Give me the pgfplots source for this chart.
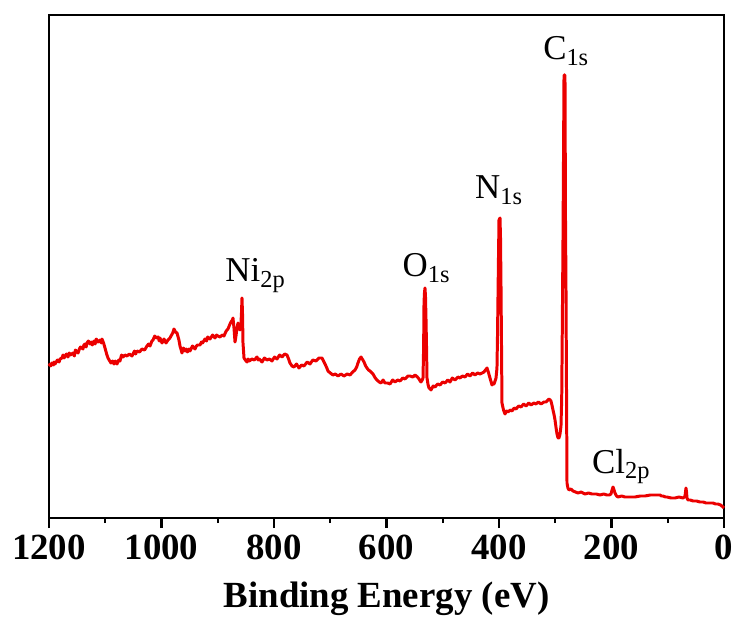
\documentclass[border=0pt]{standalone}
\usepackage{fontspec}
\setmainfont{Liberation Serif}
\usepackage{pgfplots}
\pgfplotsset{compat=1.18}

\begin{document}
\begin{tikzpicture}
\useasboundingbox (0,0) rectangle (368.5bp,311.5bp);
\begin{axis}[
  at={(24.5bp,52.5bp)}, anchor=south west,
  scale only axis, width=337.5bp, height=251.5bp,
  x dir=reverse, xmin=0, xmax=1200, ymin=0, ymax=503,
  xtick={0,200,...,1200}, minor x tick num=1,
  ytick=\empty,
  xtick pos=bottom, tick align=outside,
  major tick length=5bp, minor tick length=2.5bp,
  axis line style={line width=1.3pt},
  every tick/.style={line width=1.2pt, black},
  /pgf/number format/assume math mode=true,
  /pgf/number format/1000 sep={},
  tick label style={font=\fontsize{18.5}{20}\selectfont\bfseries},
  xlabel={Binding Energy (eV)},
  xlabel style={font=\fontsize{18.5}{20}\selectfont\bfseries,
    at={(axis description cs:0.5,0)}, anchor=base, yshift=-44.5bp},
  clip=false,
]
% XPS survey spectrum (intensity in arbitrary units)
\addplot[red!92!black, line width=1.5pt, line join=round] coordinates {
(1200,152)(1198,154)(1197,152)(1194.7,155)(1192,153)(1191,156)(1189.3,154)(1185,158)(1182,156)(1180.4,159)(1177,160)
(1175,163)(1173.3,160)(1169,164)(1166.2,161)(1164,165)(1162,163)(1157.3,165)(1155,162)(1153,168)(1148.4,165)(1146,169)(1144,171)
(1139.6,169)(1138,173)(1136,174)(1134,171)(1132.4,175)(1130,177)(1127.1,174)(1125,176)(1123,173)(1120,177)(1118,174)(1116,179)
(1112.9,176)(1109,178)(1107,175)(1105.8,179)(1103,175)(1100.4,170)(1097.5,164)(1095.1,160)(1092,157)
(1089.8,155)(1087,157)(1084.4,154)(1082,157)(1079.1,154)(1076,158)(1073.8,157)(1071,163)
(1068.4,161)(1065,163)(1061.3,162)(1057,164)(1052.4,162)(1048,167)(1046,164)(1043.6,167)(1039,166)
(1034.7,169)(1030,168)(1025.8,172)(1023,174)(1020.4,172)(1017,177)(1015.1,178)(1012,182)
(1009.8,180)(1006,181)(1004,177)(1002.7,180)(999,175)(995.6,179)(992,175)(988.4,178)(985,180)
(983.1,182)(980,185)(977.8,189)(975,186)(972.4,185)(969,178)(967.1,172)(965,168)
(963.6,165)(961,170)(958.2,167)(956,169)(954,166)(951,169)(949.3,167)(945,172)(940.4,169)(938,172)(936,173)
(931.6,173)(929,176)(927,175)(922.7,179)(920,177)(918,181)(913.8,179)(909,183)(904.9,180)(902,183)(900,182)
(896,181)(892,183)(888.9,182)(885,187)(881.8,189)(879,193)(876.4,196)(874,198)
(872.9,200)(871.1,190)(869.3,176)(867.6,182)(866,189)(864,195)(862,190)(860.4,188)
(858.7,195)(857.8,205)(856.9,220)(856,205)(855.1,175)(853.3,160)(851,158)(848,156)
(846,159)(844,157)(839.1,159)(835,158)(830.2,161)(828,158)(826,159)(821.3,156)(817,160)(812.4,158)
(808,159)(803.6,157)(799,161)(794.7,159)(790,163)(785.8,161)(781,164)(776.9,163)
(774,159)(771.6,155)(768,152)(764.4,151)(760,154)(755.6,150)(751,153)(746.7,152)
(741,156)(736,154)(731,158)(725.3,157)(720,160)(714.7,160)(712,157)(709.3,154)
(706,150)(704,147)(700,145)(695.1,143)(691,144)(686.2,142)(681,144)(675.6,142)
(670,144)(664.9,143)(660,146)(656,148)(653,151)(650.7,155)(648,159)(645.3,161)
(642,158)(640,156)(637,152)(634.7,150)(632,148)(629.3,147)(626,145)(624,144)
(620,140)(616.9,138)(613,136)(609.8,135)(606,138)(602.7,135)(598,135)(593.8,134)
(589,138)(584.9,136)(580,138)(576,137)(571,140)(567.1,139)(562,142)(558.2,142)
(553,141)(549.3,143)(545,141)(542.2,139)(540,137)(538.7,136)(536.5,138)(535.1,140)
(534,170)(533.3,215)(532.5,225)(531.6,230)(530.7,222)(529.8,200)(528.8,170)(528,140)
(526,133)(524.4,130)(522,129)(520.9,128)(517,132)(513.8,131)(509,134)(504.9,133)
(500,136)(496,135)(491,138)(487.1,136)(483,140)(478.2,138)(473,141)(469.3,140)
(465,142)(460.4,141)(456,144)(451.6,142)(447,145)(442.7,143)(438,145)(433.8,144)
(430,145)(426.7,146)(424,148)(421.3,150)(418.5,145)(416,140)(414,136)(412.4,133)
(410.5,135)(408.9,134)(407,137)(405.3,140)(403.6,150)(402.7,180)(401.8,220)(400.9,260)
(400,298)(398.2,300)(397.3,280)(396.4,230)(395.5,170)(394.7,115)(392,108)(389.3,104)
(386.5,107)(384,106)(380,108)(376.9,107)(373,110)(369.8,109)(365,112)(360.9,111)
(356,114)(352,112)(347,115)(343.1,113)(338,115)(334.2,114)(330,116)(325.3,114)
(320,116)(316.4,116)(313,118)(311.1,119)(309,118)(307.6,117)(305.5,112)(304,108)
(302,103)(300.4,98)(298.5,90)(296.9,84)(295,80)(293.3,80)(291.5,84)(289.8,92)
(288.5,120)(287.3,200)(286.2,280)(285.3,360)(284.4,443)(283.5,443)(282.7,443)(281.8,300)
(280.9,230)(280,130)(279.1,35)(277.5,30)(275.6,28)(272,29)(268.4,27)(264,26)
(259.6,25)(254,26)(247.1,24)(241,25)(234.7,24)(227,24)(220.4,23)(214,24)
(208,23)(204,23)(200.9,24)(199,28)(197.3,31)(195.5,28)(193.8,25)(191,22)
(188.4,21)(182,22)(176,21)(167,21)(158.2,21)(149,22)(140.4,22)(131,23)
(122.7,23)(118,23)(113.8,23)(111,22)(108.4,22)(104,21)(101.3,21)(94,20)
(87.1,20)(80,21)(72.9,20)(70.5,21)(69.3,22)(68.4,26)(67.6,30)(66.6,26)
(65.8,20)(64,18)(60,18)(55.1,17)(49,17)(42.7,16)(37,16)(32,15)
(26,15)(19.6,15)(15,14)(10.7,14)(6,13)(1.8,11)(0,10)
};
% peak labels
\node[anchor=base west, inner sep=0pt, font=\fontsize{17.5}{19}\selectfont]
  at (axis cs:887,236) {Ni\textsubscript{2p}};
\node[anchor=base west, inner sep=0pt, font=\fontsize{17.5}{19}\selectfont]
  at (axis cs:572,241) {O\textsubscript{1s}};
\node[anchor=base west, inner sep=0pt, font=\fontsize{17.5}{19}\selectfont]
  at (axis cs:443,319) {N\textsubscript{1s}};
\node[anchor=base west, inner sep=0pt, font=\fontsize{17.5}{19}\selectfont]
  at (axis cs:322,458) {C\textsubscript{1s}};
\node[anchor=base west, inner sep=0pt, font=\fontsize{17.5}{19}\selectfont]
  at (axis cs:235,45) {Cl\textsubscript{2p}};
\end{axis}
\end{tikzpicture}
\end{document}
